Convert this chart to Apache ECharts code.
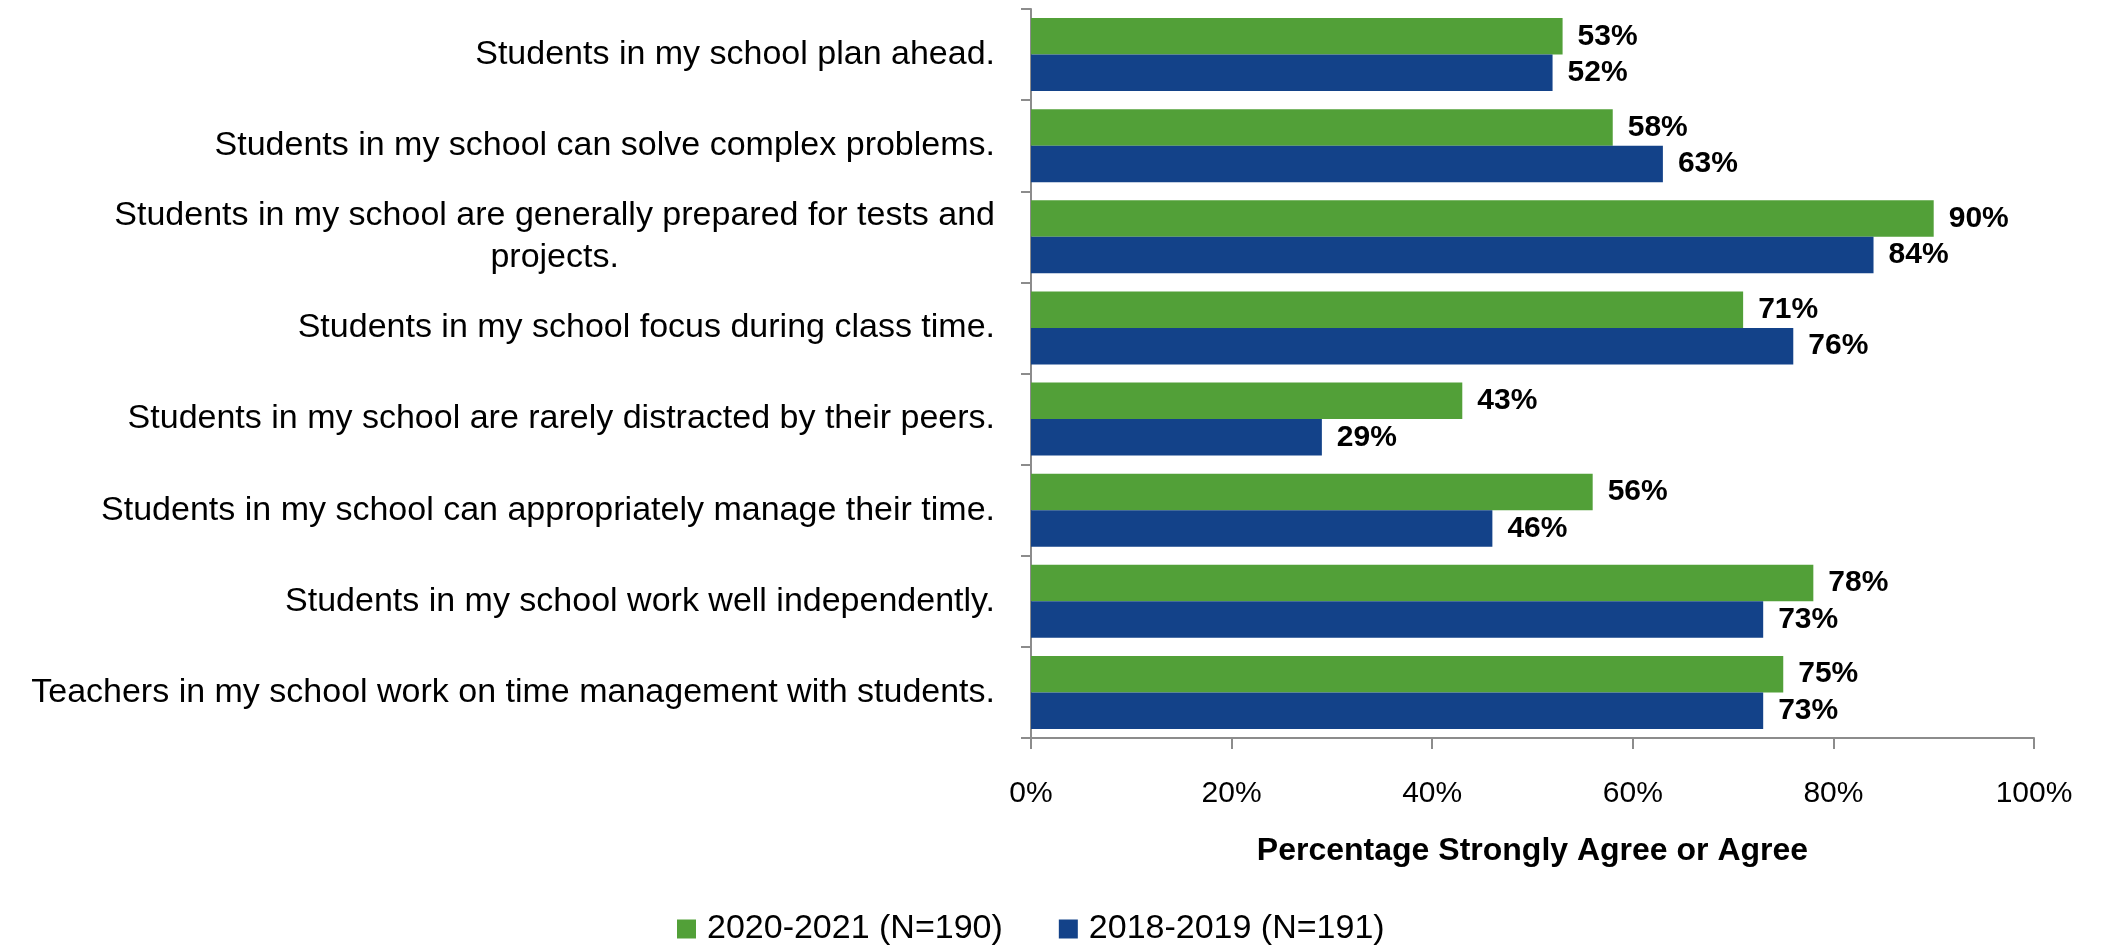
<!DOCTYPE html>
<html>
<head>
<meta charset="utf-8">
<script src="https://cdn.jsdelivr.net/npm/echarts@6/dist/echarts.min.js"></script>
<style>
    html, body { margin: 0; padding: 0; background: #fff; }
    #chart { width: 2105px; height: 945px; }
</style>
</head>
<body>
<div id="chart"></div>
<script>
const categories = [
    'Students in my school plan ahead.',
    'Students in my school can solve complex problems.',
    'Students in my school are generally prepared for tests and projects.',
    'Students in my school focus during class time.',
    'Students in my school are rarely distracted by their peers.',
    'Students in my school can appropriately manage their time.',
    'Students in my school work well independently.',
    'Teachers in my school work on time management with students.',
];
const values2021 = [53, 58, 90, 71, 43, 56, 78, 75];
const values2019 = [52, 63, 84, 76, 29, 46, 73, 73];
const xTicks = [0, 20, 40, 60, 80, 100];

const GREEN = '#52a038';
const BLUE = '#134289';
const AXIS = '#8c8c8c';
const FONT = "'Liberation Sans', Arial, sans-serif";

// long labels wrap into two centred lines, like the source chart
function wrapLabel(text) {
    const max = 60;
    if (text.length <= max) return '{c|' + text + '}';
    const cut = text.lastIndexOf(' ', max);
    return '{c|' + text.slice(0, cut) + '}\n{c|' + text.slice(cut + 1) + '}';
}

const barLabel = {
    show: true, position: 'right', distance: 15,
    formatter: p => p.value + '%',
    fontSize: 30, fontWeight: 'bold', color: '#000', fontFamily: FONT,
};

const chart = echarts.init(document.getElementById('chart'));
chart.setOption({
    animation: false,
    backgroundColor: '#fff',
    textStyle: { fontFamily: FONT },
    grid: { left: 1031, right: 71, top: 9, bottom: 207, containLabel: false },
    legend: {
        data: ['2020-2021 (N=190)', '2018-2019 (N=191)'],
        left: 672,
        top: 907,
        icon: 'rect',
        itemWidth: 19,
        itemHeight: 19,
        itemGap: 56,
        textStyle: { fontSize: 34, color: '#000', fontFamily: FONT, padding: [0, 0, 0, 6] },
    },
    xAxis: {
        type: 'value',
        min: 0,
        max: 100,
        interval: 20,
        name: 'Percentage Strongly Agree or Agree',
        nameLocation: 'middle',
        nameGap: 97,
        nameTextStyle: { fontSize: 32, fontWeight: 'bold', color: '#000', fontFamily: FONT },
        axisLine: { show: true, lineStyle: { color: AXIS, width: 2 } },
        axisTick: { show: true, length: 11, lineStyle: { color: AXIS, width: 2 } },
        axisLabel: {
            fontSize: 30, color: '#000', margin: 41,
            formatter: v => (xTicks.includes(v) ? v + '%' : ''),
        },
        splitLine: { show: false },
    },
    yAxis: {
        type: 'category',
        inverse: true,
        data: categories,
        axisLine: { show: true, lineStyle: { color: AXIS, width: 2 } },
        axisTick: { show: true, length: 10, lineStyle: { color: AXIS, width: 2 } },
        axisLabel: {
            fontSize: 34, color: '#000', margin: 36,
            formatter: wrapLabel,
            rich: { c: { fontSize: 34, color: '#000', align: 'center', lineHeight: 42, fontFamily: FONT } },
        },
    },
    series: [
        {
            name: '2020-2021 (N=190)',
            type: 'bar',
            data: values2021,
            itemStyle: { color: GREEN },
            barGap: '0%',
            barCategoryGap: '20%',
            label: barLabel,
        },
        {
            name: '2018-2019 (N=191)',
            type: 'bar',
            data: values2019,
            itemStyle: { color: BLUE },
            barGap: '0%',
            barCategoryGap: '20%',
            label: barLabel,
        },
    ],
});
</script>
</body>
</html>
